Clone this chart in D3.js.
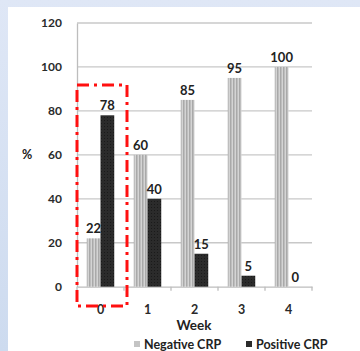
<!DOCTYPE html>
<html><head><meta charset="utf-8">
<script src="https://cdn.jsdelivr.net/npm/d3@7"></script>
<style>
html,body{margin:0;padding:0;background:#fff;}
svg{display:block;}
text{font-family:Lato,"Liberation Sans",sans-serif;}
</style></head>
<body>
<svg id="c" width="360" height="351"></svg>
<script>
const weeks = ["0","1","2","3","4"];
const negativeCRP = [22, 60, 85, 95, 100];
const positiveCRP = [78, 40, 15, 5, 0];
const seriesNames = ["Negative CRP", "Positive CRP"];
const yTicks = [0, 20, 40, 60, 80, 100, 120];

const svg = d3.select("#c");
const defs = svg.append("defs");
const bg = defs.append("linearGradient").attr("id","bgL").attr("x1",0).attr("x2",0).attr("y1",0).attr("y2",1);
bg.append("stop").attr("offset","0%").attr("stop-color","#dfe7f6");
bg.append("stop").attr("offset","100%").attr("stop-color","#cddbef");
svg.append("rect").attr("width",360).attr("height",351).attr("fill","url(#bgL)");
svg.append("rect").attr("x",8).attr("y",7).attr("width",352).attr("height",344).attr("fill","#ffffff");

const pat = defs.append("pattern").attr("id","neg").attr("patternUnits","userSpaceOnUse").attr("width",3).attr("height",4);
pat.append("rect").attr("width",3).attr("height",4).attr("fill","#d4d4d4");
pat.append("rect").attr("width",1.5).attr("height",4).attr("fill","#a9a9a9");
const pat2 = defs.append("pattern").attr("id","pos").attr("patternUnits","userSpaceOnUse").attr("width",3).attr("height",3);
pat2.append("rect").attr("width",3).attr("height",3).attr("fill","#2b2b2b");
pat2.append("rect").attr("width",1).attr("height",1).attr("fill","#1a1a1a");

const x0 = d3.scaleBand().domain(weeks).range([77, 312]).paddingInner(0).paddingOuter(0);
const x1 = d3.scaleBand().domain(seriesNames).range([0, x0.bandwidth()]).paddingInner(0).paddingOuter(0.71);
const y = d3.scaleLinear().domain([0, 120]).range([286.7, 23]);

// gridlines
svg.append("g").selectAll("line").data(yTicks.filter(d=>d>0)).join("line")
  .attr("x1",77).attr("x2",312).attr("y1",d=>y(d)).attr("y2",d=>y(d))
  .attr("stroke","#c8c8c8").attr("stroke-width",1.3);

// y axis
const yAxis = d3.axisLeft(y).tickValues(yTicks).tickSize(0).tickPadding(15);
const gy = svg.append("g").attr("transform","translate(77,0)").call(yAxis);
gy.select(".domain").attr("stroke","#bdbdbd").attr("stroke-width",1.3);
gy.selectAll("text").attr("font-size",12).attr("font-weight","bold").attr("fill","#2a2a2a");

// x axis
const xAxis = d3.axisBottom(x0).tickSize(0).tickPadding(18);
const gx = svg.append("g").attr("transform",`translate(0,${y(0)})`).call(xAxis);
gx.select(".domain").attr("stroke","#bdbdbd").attr("stroke-width",1.3);
gx.selectAll("text").attr("font-size",12.5).attr("font-weight","bold").attr("fill","#2a2a2a");
gx.append("g").selectAll("line").data(d3.range(weeks.length+1)).join("line")
  .attr("x1",i=>77+i*x0.step()).attr("x2",i=>77+i*x0.step()).attr("y1",0).attr("y2",4)
  .attr("stroke","#bdbdbd").attr("stroke-width",1.3);

// bars
const rows = weeks.map((w,i)=>({w, vals:[{k:seriesNames[0],v:negativeCRP[i]},{k:seriesNames[1],v:positiveCRP[i]}]}));
const grp = svg.append("g").selectAll("g").data(rows).join("g")
  .attr("transform",d=>`translate(${x0(d.w)},0)`);
grp.selectAll("rect").data(d=>d.vals).join("rect")
  .attr("x",d=>x1(d.k)).attr("width",x1.bandwidth())
  .attr("y",d=>y(d.v)).attr("height",d=>y(0)-y(d.v))
  .attr("fill",d=>d.k===seriesNames[0]?"url(#neg)":"url(#pos)");
grp.selectAll("text").data(d=>d.vals).join("text")
  .attr("x",d=>x1(d.k)+x1.bandwidth()/2).attr("y",d=>y(d.v)-5)
  .attr("text-anchor","middle").attr("font-size",13).attr("font-weight","bold").attr("fill","#222")
  .text(d=>d.v);

// % label
svg.append("text").attr("x",27).attr("y",y(60)+4.5).attr("text-anchor","middle")
  .attr("font-size",12.5).attr("font-weight","bold").attr("fill","#222").text("%");
// Week label
svg.append("text").attr("x",194).attr("y",330).attr("text-anchor","middle")
  .attr("font-size",13.5).attr("font-weight","bold").attr("fill","#222").text("Week");

// legend
const leg = svg.append("g");
const legX = [134, 246];
seriesNames.forEach((n,i)=>{
  leg.append("rect").attr("x",legX[i]).attr("y",341).attr("width",6).attr("height",6)
    .attr("fill", i===0?"#c4c4c4":"#2b2b2b");
  leg.append("text").attr("x",legX[i]+10).attr("y",348.5).attr("font-size",12.5).attr("font-weight","bold")
    .attr("fill","#222").text(n);
});

// red dash-dot highlight box
svg.append("rect").attr("x",77).attr("y",85).attr("width",50).attr("height",221)
  .attr("fill","none").attr("stroke","#ff1010").attr("stroke-width",3)
  .attr("stroke-dasharray","12,5,3,5");
</script>
</body></html>
